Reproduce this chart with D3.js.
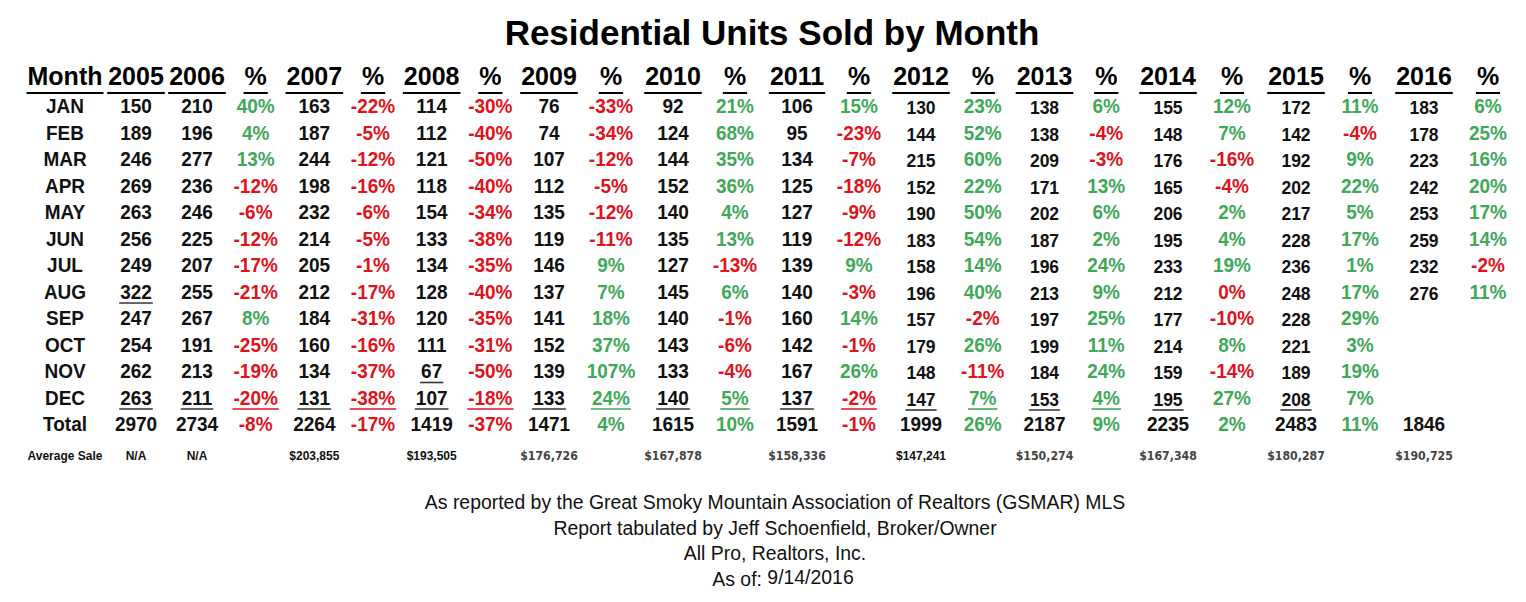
<!DOCTYPE html>
<html>
<head>
<meta charset="utf-8">
<script src="https://cdn.jsdelivr.net/npm/d3@7"></script>
<style>
  body { margin: 0; background: #fff; }
  svg { display: block; }
</style>
</head>
<body>
<div id="chart"></div>
<script>
// month labels (rows)
const months = ["JAN", "FEB", "MAR", "APR", "MAY", "JUN", "JUL", "AUG", "SEP", "OCT", "NOV", "DEC"];
const years = [2005, 2006, 2007, 2008, 2009, 2010, 2011, 2012, 2013, 2014, 2015, 2016];

// units sold per month
const sold2005 = [150, 189, 246, 269, 263, 256, 249, 322, 247, 254, 262, 263];
const sold2006 = [210, 196, 277, 236, 246, 225, 207, 255, 267, 191, 213, 211];
const sold2007 = [163, 187, 244, 198, 232, 214, 205, 212, 184, 160, 134, 131];
const sold2008 = [114, 112, 121, 118, 154, 133, 134, 128, 120, 111, 67, 107];
const sold2009 = [76, 74, 107, 112, 135, 119, 146, 137, 141, 152, 139, 133];
const sold2010 = [92, 124, 144, 152, 140, 135, 127, 145, 140, 143, 133, 140];
const sold2011 = [106, 95, 134, 125, 127, 119, 139, 140, 160, 142, 167, 137];
const sold2012 = [130, 144, 215, 152, 190, 183, 158, 196, 157, 179, 148, 147];
const sold2013 = [138, 138, 209, 171, 202, 187, 196, 213, 197, 199, 184, 153];
const sold2014 = [155, 148, 176, 165, 206, 195, 233, 212, 177, 214, 159, 195];
const sold2015 = [172, 142, 192, 202, 217, 228, 236, 248, 228, 221, 189, 208];
const sold2016 = [183, 178, 223, 242, 253, 259, 232, 276];
const totals = [2970, 2734, 2264, 1419, 1471, 1615, 1591, 1999, 2187, 2235, 2483, 1846];

// % change vs prior year (as printed)
const pct2006 = [40, 4, 13, -12, -6, -12, -17, -21, 8, -25, -19, -20];
const pct2007 = [-22, -5, -12, -16, -6, -5, -1, -17, -31, -16, -37, -38];
const pct2008 = [-30, -40, -50, -40, -34, -38, -35, -40, -35, -31, -50, -18];
const pct2009 = [-33, -34, -12, -5, -12, -11, 9, 7, 18, 37, 107, 24];
const pct2010 = [21, 68, 35, 36, 4, 13, -13, 6, -1, -6, -4, 5];
const pct2011 = [15, -23, -7, -18, -9, -12, 9, -3, 14, -1, 26, -2];
const pct2012 = [23, 52, 60, 22, 50, 54, 14, 40, -2, 26, -11, 7];
const pct2013 = [6, -4, -3, 13, 6, 2, 24, 9, 25, 11, 24, 4];
const pct2014 = [12, 7, -16, -4, 2, 4, 19, 0, -10, 8, -14, 27];
const pct2015 = [11, -4, 9, 22, 5, 17, 1, 17, 29, 3, 19, 7];
const pct2016 = [6, 25, 16, 20, 17, 14, -2, 11];
const totalPct = [-8, -17, -37, 4, 10, -1, 26, 9, 2, 11];

const avgSale = ["N/A", "N/A", "$203,855", "$193,505", "$176,726", "$167,878", "$158,336",
                 "$147,241", "$150,274", "$167,348", "$180,287", "$190,725"];

// cells printed with an underline
const underlined = [["2005", "AUG"], ["2008", "NOV"],
  ["2005", "DEC"], ["2006", "DEC"], ["2007", "DEC"], ["2008", "DEC"], ["2009", "DEC"], ["2010", "DEC"],
  ["2011", "DEC"], ["2012", "DEC"], ["2013", "DEC"], ["2014", "DEC"], ["2015", "DEC"],
  ["%2006", "DEC"], ["%2007", "DEC"], ["%2008", "DEC"], ["%2009", "DEC"], ["%2010", "DEC"],
  ["%2011", "DEC"], ["%2012", "DEC"], ["%2013", "DEC"]];

const footer = [
  "As reported by the Great Smoky Mountain Association of Realtors (GSMAR) MLS",
  "Report tabulated by Jeff Schoenfield, Broker/Owner",
  "All Pro, Realtors, Inc."
];

const soldByYear = [sold2005, sold2006, sold2007, sold2008, sold2009, sold2010,
                    sold2011, sold2012, sold2013, sold2014, sold2015, sold2016];
const pctByYear = [null, pct2006, pct2007, pct2008, pct2009, pct2010,
                   pct2011, pct2012, pct2013, pct2014, pct2015, pct2016];

const W = 1526, H = 602;
const GREEN = "#3fa95a", RED = "#e0121c";
const FONT = "'Liberation Sans', Arial, sans-serif";

const svg = d3.select("#chart").append("svg")
    .attr("width", W)
    .attr("height", H);

// build column list: Month, 2005, 2006, %, 2007, %, ...
const columns = [{ key: "Month", label: "Month", type: "month" }];
years.forEach((yr, i) => {
    columns.push({ key: String(yr), label: String(yr), type: "num", yi: i });
    if (i > 0) columns.push({ key: "%" + yr, label: "%", type: "pct", yi: i });
});

// column centres (columns are a bit wider on the right side of the sheet)
const x = d3.scaleLinear()
    .domain([0, 1, 2, 8, 14, 18, 23])
    .range([65, 136, 197, 549, 921, 1168, 1488]);
const rows = months.concat(["Total"]);
const y = d3.scalePoint().domain(rows).range([113, 431]);

const underSet = new Set(underlined.map(d => d[0] + "|" + d[1]));

svg.append("text")
    .attr("x", 772).attr("y", 45)
    .attr("text-anchor", "middle")
    .style("font-family", FONT).style("font-weight", "bold").style("font-size", "35px")
    .text("Residential Units Sold by Month");

function cell(g, cx, cy, txt, size, color, stretch, ul) {
    const t = g.append("text")
        .attr("transform", `translate(${cx},${cy}) scale(1,${stretch})`)
        .attr("text-anchor", "middle")
        .style("font-family", FONT).style("font-weight", "bold")
        .style("font-size", size + "px")
        .attr("fill", color)
        .text(txt);
    if (ul) {
        const w = t.node().getComputedTextLength();
        g.append("line")
            .attr("x1", cx - w / 2 - 1).attr("x2", cx + w / 2 + 1)
            .attr("y1", cy + ul.dy).attr("y2", cy + ul.dy)
            .attr("stroke", ul.color || color).attr("stroke-width", ul.sw);
    }
    return t;
}

// header
const head = svg.append("g");
columns.forEach((c, ci) => {
    cell(head, x(ci), 85, c.label, 25, "#000", 1.05, { dy: 8, sw: 2 });
});

// body
const body = svg.append("g");
columns.forEach((c, ci) => {
    rows.forEach((m, ri) => {
        let txt = null, color = "#111", size = 19;
        if (c.type === "month") {
            txt = m;
        } else if (c.type === "num") {
            const v = m === "Total" ? totals[c.yi] : soldByYear[c.yi][ri];
            if (v === undefined) return;
            txt = String(v);
            if (m !== "Total" && years[c.yi] >= 2012) size = 17.5;
        } else {
            const v = m === "Total" ? totalPct[c.yi - 1] : pctByYear[c.yi][ri];
            if (v === undefined) return;
            txt = v + "%";
            color = v > 0 ? GREEN : RED;
        }
        const ul = underSet.has(c.key + "|" + m)
            ? { dy: 4.5, sw: 1.6, color: c.type === "pct" ? color : "#333" } : null;
        cell(body, x(ci), y(m) + (size < 19 ? 1 : 0), txt, size, color, 1.07, ul);
    });
});

// average sale row
const avgBlack = new Set([2007, 2008, 2012]);
const avg = svg.append("g");
cell(avg, x(0), 460, "Average Sale", 12, "#111", 1.1, null);
years.forEach((yr, i) => {
    const ci = columns.findIndex(c => c.key === String(yr));
    const dark = avgSale[i] === "N/A" || avgBlack.has(yr);
    const t = cell(avg, x(ci), 460, avgSale[i], dark ? 12 : 11, dark ? "#111" : "#444", 1.1, null);
    if (!dark) t.style("font-family", "'DejaVu Sans', Verdana, sans-serif");
});

// footer notes (condensed Helvetica look)
const foot = svg.append("g")
    .style("font-family", FONT)
    .style("font-size", "21px")
    .attr("fill", "#111")
    .attr("text-anchor", "middle");
footer.forEach((line, i) => {
    foot.append("text")
        .attr("transform", `translate(775,${509 + i * 25.7}) scale(0.925,1)`)
        .text(line);
});
const asOf = foot.append("text").attr("transform", "translate(783,586) scale(0.925,1)");
asOf.append("tspan").text("As of: ");
asOf.append("tspan").attr("dy", -2).text("9/14/2016");
</script>
</body>
</html>
